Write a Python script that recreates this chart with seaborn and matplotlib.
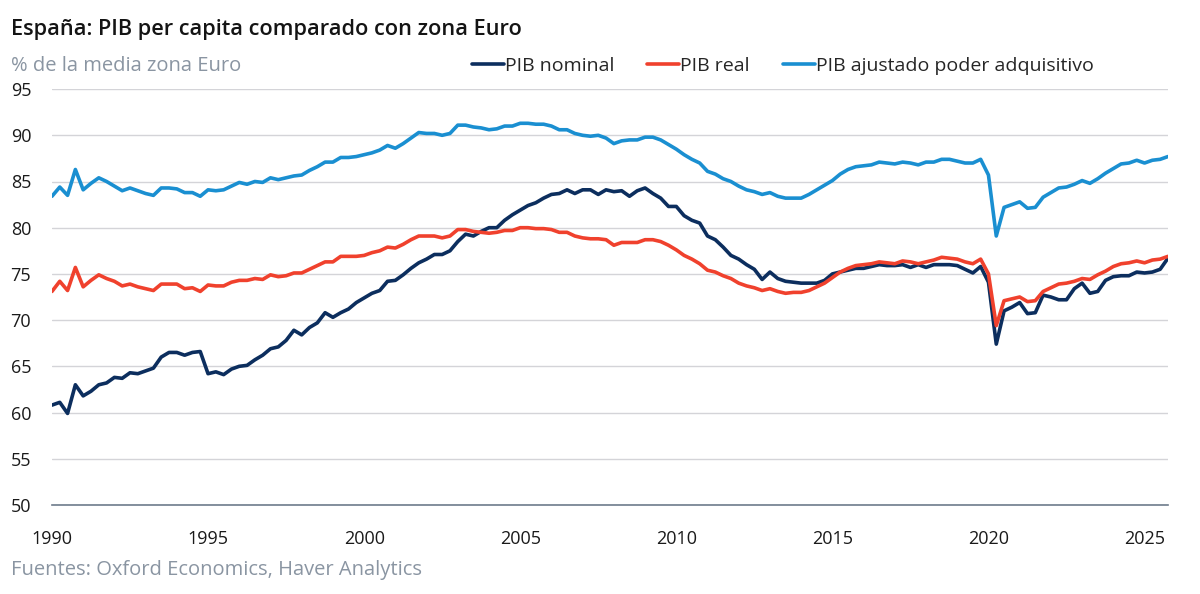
import numpy as np
import pandas as pd
import matplotlib
matplotlib.use("Agg")
import matplotlib.pyplot as plt
import seaborn as sns

# trimestres 1990T1 - 2025T4
trimestres = pd.period_range("1990Q1", "2025Q4", freq="Q")
anios = trimestres.year + (trimestres.quarter - 1) / 4

pib_nominal = [
    60.8, 61.1, 59.9, 63.0, 61.8, 62.3, 63.0, 63.2, 63.8, 63.7,
    64.3, 64.2, 64.5, 64.8, 66.0, 66.5, 66.5, 66.2, 66.5, 66.6,
    64.2, 64.4, 64.1, 64.7, 65.0, 65.1, 65.7, 66.2, 66.9, 67.1,
    67.8, 68.9, 68.4, 69.2, 69.7, 70.8, 70.3, 70.8, 71.2, 71.9,
    72.4, 72.9, 73.2, 74.2, 74.3, 74.9, 75.6, 76.2, 76.6, 77.1,
    77.1, 77.5, 78.5, 79.3, 79.1, 79.6, 80.0, 80.0, 80.8, 81.4,
    81.9, 82.4, 82.7, 83.2, 83.6, 83.7, 84.1, 83.7, 84.1, 84.1,
    83.6, 84.1, 83.9, 84.0, 83.4, 84.0, 84.3, 83.7, 83.2, 82.3,
    82.3, 81.3, 80.8, 80.5, 79.1, 78.7, 77.9, 77.0, 76.6, 76.0,
    75.5, 74.4, 75.2, 74.5, 74.2, 74.1, 74.0, 74.0, 74.0, 74.3,
    75.0, 75.2, 75.4, 75.6, 75.6, 75.8, 76.0, 75.9, 75.9, 76.0,
    75.7, 76.0, 75.7, 76.0, 76.0, 76.0, 75.9, 75.5, 75.1, 75.8,
    74.1, 67.4, 71.0, 71.4, 71.9, 70.7, 70.8, 72.7, 72.5, 72.2,
    72.2, 73.4, 74.0, 72.9, 73.1, 74.3, 74.7, 74.8, 74.8, 75.2,
    75.1, 75.2, 75.5, 76.7,
]
pib_real = [
    73.1, 74.2, 73.2, 75.7, 73.6, 74.3, 74.9, 74.5, 74.2, 73.7,
    73.9, 73.6, 73.4, 73.2, 73.9, 73.9, 73.9, 73.4, 73.5, 73.1,
    73.8, 73.7, 73.7, 74.1, 74.3, 74.3, 74.5, 74.4, 74.9, 74.7,
    74.8, 75.1, 75.1, 75.5, 75.9, 76.3, 76.3, 76.9, 76.9, 76.9,
    77.0, 77.3, 77.5, 77.9, 77.8, 78.2, 78.7, 79.1, 79.1, 79.1,
    78.9, 79.1, 79.8, 79.8, 79.6, 79.5, 79.4, 79.5, 79.7, 79.7,
    80.0, 80.0, 79.9, 79.9, 79.8, 79.5, 79.5, 79.1, 78.9, 78.8,
    78.8, 78.7, 78.1, 78.4, 78.4, 78.4, 78.7, 78.7, 78.5, 78.1,
    77.6, 77.0, 76.6, 76.1, 75.4, 75.2, 74.8, 74.5, 74.0, 73.7,
    73.5, 73.2, 73.4, 73.1, 72.9, 73.0, 73.0, 73.2, 73.6, 74.0,
    74.6, 75.2, 75.6, 75.9, 76.0, 76.1, 76.3, 76.2, 76.1, 76.4,
    76.3, 76.1, 76.3, 76.5, 76.8, 76.7, 76.6, 76.3, 76.1, 76.6,
    75.0, 69.4, 72.1, 72.3, 72.5, 72.0, 72.1, 73.1, 73.5, 73.9,
    74.0, 74.2, 74.5, 74.4, 74.9, 75.3, 75.8, 76.1, 76.2, 76.4,
    76.2, 76.5, 76.6, 76.9,
]
pib_ppa = [
    83.4, 84.4, 83.5, 86.3, 84.1, 84.8, 85.4, 85.0, 84.5, 84.0,
    84.3, 84.0, 83.7, 83.5, 84.3, 84.3, 84.2, 83.8, 83.8, 83.4,
    84.1, 84.0, 84.1, 84.5, 84.9, 84.7, 85.0, 84.9, 85.4, 85.2,
    85.4, 85.6, 85.7, 86.2, 86.6, 87.1, 87.1, 87.6, 87.6, 87.7,
    87.9, 88.1, 88.4, 88.9, 88.6, 89.1, 89.7, 90.3, 90.2, 90.2,
    90.0, 90.2, 91.1, 91.1, 90.9, 90.8, 90.6, 90.7, 91.0, 91.0,
    91.3, 91.3, 91.2, 91.2, 91.0, 90.6, 90.6, 90.2, 90.0, 89.9,
    90.0, 89.7, 89.1, 89.4, 89.5, 89.5, 89.8, 89.8, 89.5, 89.0,
    88.5, 87.9, 87.4, 87.0, 86.1, 85.8, 85.3, 85.0, 84.5, 84.1,
    83.9, 83.6, 83.8, 83.4, 83.2, 83.2, 83.2, 83.6, 84.1, 84.6,
    85.1, 85.8, 86.3, 86.6, 86.7, 86.8, 87.1, 87.0, 86.9, 87.1,
    87.0, 86.8, 87.1, 87.1, 87.4, 87.4, 87.2, 87.0, 87.0, 87.4,
    85.7, 79.1, 82.2, 82.5, 82.8, 82.1, 82.2, 83.3, 83.8, 84.3,
    84.4, 84.7, 85.1, 84.8, 85.3, 85.9, 86.4, 86.9, 87.0, 87.3,
    87.0, 87.3, 87.4, 87.7,
]

series = ["PIB nominal", "PIB real", "PIB ajustado poder adquisitivo"]
colores = ["#0c2e5e", "#f0412d", "#1a8fd1"]

df = pd.DataFrame({
    "anio": np.tile(anios, 3),
    "valor": pib_nominal + pib_real + pib_ppa,
    "serie": np.repeat(series, len(anios)),
})

sns.set_style("white")
plt.rcParams["font.family"] = ["Open Sans", "DejaVu Sans"]

fig = plt.figure(figsize=(12, 5.94), dpi=100)
ax = fig.add_axes([0.0433, 0.150, 0.930, 0.700])

sns.lineplot(data=df, x="anio", y="valor", hue="serie", hue_order=series,
             palette=colores, linewidth=2.6, ax=ax, legend=True)

ax.set_xlim(1990, 2025.75)
ax.set_ylim(50, 95)
ax.set_yticks(range(50, 96, 5))
ax.set_xticks(range(1990, 2026, 5))
ax.grid(axis="y", color="#d4d4d8", linewidth=1)
ax.set_axisbelow(True)
ax.set_xlabel("")
ax.set_ylabel("")
for s in ["top", "right", "left"]:
    ax.spines[s].set_visible(False)
ax.spines["bottom"].set_color("#6e7c8c")
ax.spines["bottom"].set_linewidth(1.2)
ax.tick_params(axis="both", length=0, labelsize=13, colors="#1a1a1a")
ax.tick_params(axis="y", pad=15)
ax.tick_params(axis="x", pad=18)

ax.legend(loc="center left", bbox_to_anchor=(0.376, 1.056), ncol=3, frameon=False,
          fontsize=14, handlelength=1.65, handletextpad=0.05, columnspacing=1.7,
          borderaxespad=0, borderpad=0)

fig.text(0.009, 0.951, "España: PIB per capita comparado con zona Euro",
         fontsize=15.7, fontweight="semibold", color="#141414", va="center")
fig.text(0.009, 0.889, "% de la media zona Euro", fontsize=14.5,
         color="#8a95a2", va="center")
fig.text(0.009, 0.040, "Fuentes: Oxford Economics, Haver Analytics", fontsize=14.5,
         color="#8a95a2", va="center")

fig.savefig("out.png", dpi=100)
